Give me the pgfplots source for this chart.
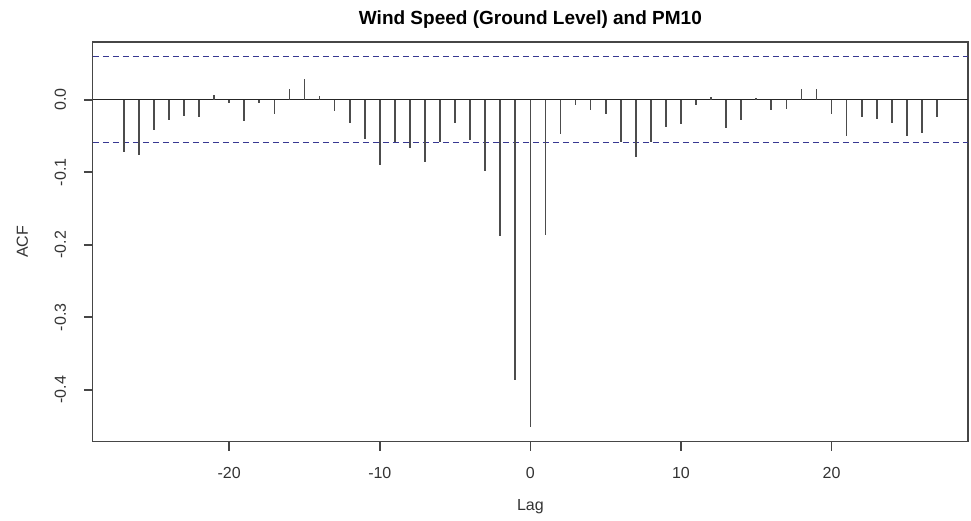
\documentclass[border=0pt]{standalone}
\usepackage{pgfplots}
\pgfplotsset{compat=1.18}
\usepackage{fontspec}
\setmainfont{Liberation Sans}
\definecolor{ciblue}{RGB}{55,55,145}
\definecolor{frame}{RGB}{70,70,70}
\pgfplotstableread{
lag acf
-27 -0.0726
-26 -0.0759
-25 -0.0423
-24 -0.0276
-23 -0.0230
-22 -0.0244
-21 0.0069
-20 -0.0050
-19 -0.0294
-18 -0.0050
-17 -0.0200
-16 0.0143
-15 0.0280
-14 0.0055
-13 -0.0156
-12 -0.0320
-11 -0.0538
-10 -0.0906
-9 -0.0584
-8 -0.0667
-7 -0.0855
-6 -0.0584
-5 -0.0320
-4 -0.0556
-3 -0.0979
-2 -0.1880
-1 -0.3866
0 -0.4520
1 -0.1866
2 -0.0474
3 -0.0078
4 -0.0143
5 -0.0198
6 -0.0584
7 -0.0786
8 -0.0584
9 -0.0377
10 -0.0331
11 -0.0078
12 0.0032
13 -0.0395
14 -0.0276
15 0.0030
16 -0.0143
17 -0.0124
18 0.0143
19 0.0143
20 -0.0198
21 -0.0501
22 -0.0244
23 -0.0262
24 -0.0322
25 -0.0501
26 -0.0455
27 -0.0244
}\acfdata
\begin{document}
\begin{tikzpicture}
\useasboundingbox (-92.8pt,-78.3pt) rectangle (878.2pt,441.7pt);
\begin{axis}[
  at={(0pt,0pt)}, anchor=south west,
  scale only axis,
  width=875.2pt, height=399.7pt,
  xmin=-29.06, xmax=29.06,
  ymin=-0.4717, ymax=0.0796,
  xtick={-20,-10,0,10,20},
  ytick={-0.4,-0.3,-0.2,-0.1,0},
  yticklabels={-0.4,-0.3,-0.2,-0.1,0.0},
  xticklabels={-20,-10,0,10,20},
  xtick pos=bottom, ytick pos=left,
  xtick align=outside, ytick align=outside,
  major tick length=9pt,
  axis line style={frame, line width=1.3pt},
  xtick style={draw=frame, line width=1.7pt},
  ytick style={draw=frame, line width=1.7pt},
  tick label style={font=\fontsize{16}{19}\selectfont, text=black!80},
  xticklabel style={anchor=base, yshift=-28pt},
  yticklabel style={rotate=90, anchor=base},
  yticklabel shift=18pt,
  /pgf/number format/assume math mode=true,
  title={\bfseries Wind Speed (Ground Level) and PM10},
  title style={at={(axis description cs:0.5,1)}, anchor=base, yshift=12pt, font=\fontsize{19}{22}\selectfont},
  xlabel={Lag},
  xlabel style={at={(axis description cs:0.5,0)}, anchor=base, yshift=-69pt, font=\fontsize{16}{19}\selectfont, text=black!80},
  ylabel={ACF},
  ylabel style={at={(axis description cs:-0.0743,0.5)}, anchor=base, rotate=0, font=\fontsize{16}{19}\selectfont, text=black!80},
  clip=false,
]
\addplot[ciblue, line width=1.2pt, dash pattern=on 6pt off 4pt] coordinates {(-29.06,0.0593) (29.06,0.0593)};
\addplot[ciblue, line width=1.2pt, dash pattern=on 6pt off 4pt] coordinates {(-29.06,-0.0593) (29.06,-0.0593)};
\addplot[black!85, line width=1.3pt] coordinates {(-29.06,0) (29.06,0)};
\addplot[black!70, line width=1.7pt, ycomb, no markers] table[x=lag, y=acf] {\acfdata};
\pgfplotsinvokeforeach{0,-0.1,-0.2,-0.3,-0.4}{
  \draw[frame, line width=1.3pt] (axis cs:-29.06,#1) -- ++(-9pt,0pt);
}
\end{axis}
\end{tikzpicture}
\end{document}
